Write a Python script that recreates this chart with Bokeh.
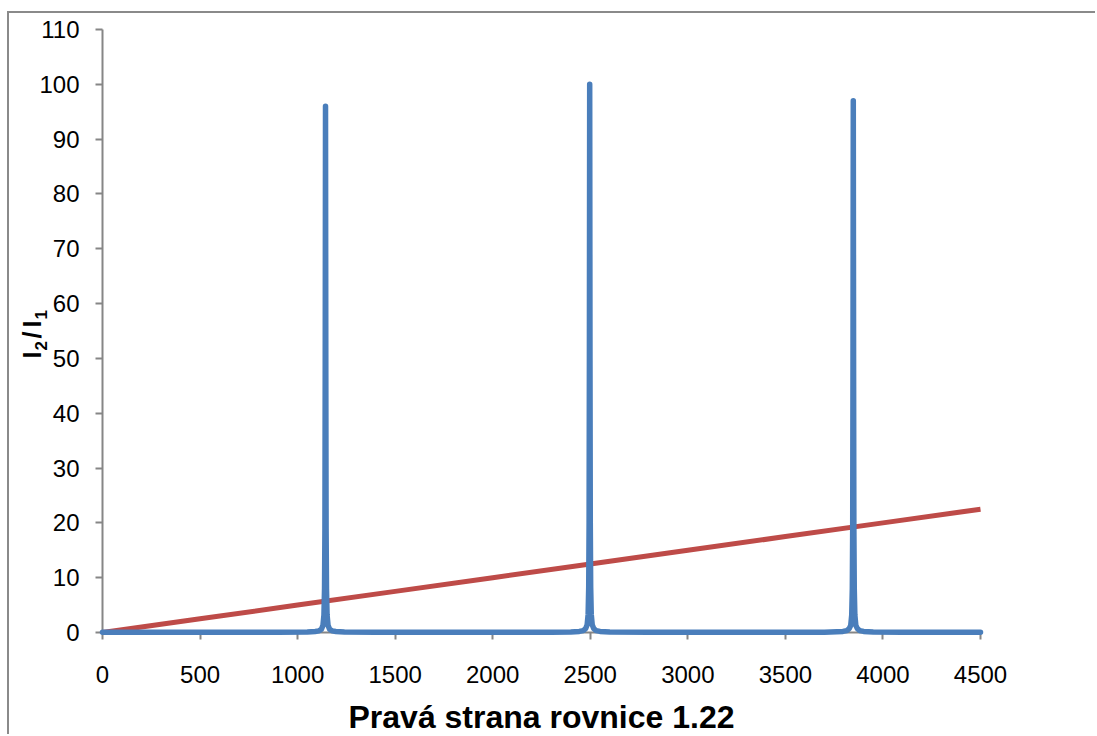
from bokeh.plotting import figure
from bokeh.models import Range1d, FixedTicker, Label
from bokeh.embed import file_html
from bokeh.resources import INLINE

# ---- data ----
blue_x = [0, 300, 600, 900, 1050, 1090, 1110, 1122, 1130, 1135, 1138, 1140, 1141.5, 1143,
          1144.5, 1146, 1148, 1151, 1156, 1164, 1176, 1196, 1240, 1400, 1700, 2000, 2300,
          2400, 2444, 2464, 2476, 2484, 2489, 2492, 2494, 2495.5, 2497, 2498.5, 2500, 2502,
          2505, 2510, 2518, 2530, 2550, 2600, 2800, 3100, 3400, 3700, 3795, 3815, 3827, 3835,
          3840, 3843, 3845, 3846.5, 3848, 3849.5, 3851, 3853, 3856, 3861, 3869, 3881, 3901,
          3950, 4100, 4300, 4500]
blue_y = [0.05, 0.05, 0.05, 0.06, 0.1, 0.2, 0.3, 0.6, 1.3, 3.2, 8, 19, 48, 96,
          48, 19, 8, 3.2, 1.3, 0.6, 0.3, 0.2, 0.1, 0.05, 0.05, 0.05, 0.05,
          0.08, 0.2, 0.35, 0.7, 1.4, 3.3, 8.3, 20, 50, 100, 50, 20, 8.3,
          3.3, 1.4, 0.7, 0.35, 0.2, 0.08, 0.05, 0.05, 0.05, 0.06, 0.2, 0.35, 0.7, 1.3,
          3.2, 8, 19, 48, 97, 48, 19, 8, 3.2, 1.3, 0.7, 0.35, 0.2,
          0.08, 0.05, 0.05, 0.05]
red_x = [0, 500, 1000, 1500, 2000, 2500, 3000, 3500, 4000, 4500]
red_y = [0, 2.5, 5, 7.5, 10, 12.5, 15, 17.5, 20, 22.5]

x_ticks = [0, 500, 1000, 1500, 2000, 2500, 3000, 3500, 4000, 4500]
y_ticks = [0, 10, 20, 30, 40, 50, 60, 70, 80, 90, 100, 110]
x_title = "Pravá strana rovnice 1.22"
# y title pieces: (text, is_subscript)
y_title_parts = [("I", False), ("2", True), ("/", False), ("I", False), ("1", True)]

AX = "#868686"
# ---- layout (pixels within the canvas) ----
CW, CH = 1088, 723
PX_L, PX_R = 93, 971      # canvas x of the 0 and 4500 ticks
PY_T, PY_B = 16, 619      # canvas y of the 110 and 0 ticks
x_lo, x_hi = x_ticks[0], x_ticks[-1]
y_lo, y_hi = y_ticks[0], y_ticks[-1]
xpp = (x_hi - x_lo) / (PX_R - PX_L)
ypp = (y_hi - y_lo) / (PY_B - PY_T)

def dx(px):   # canvas px -> data x
    return x_lo + (px - PX_L) * xpp

def dy(py):   # canvas py -> data y
    return y_lo + (PY_B - py) * ypp

p = figure(width=CW, height=CH, output_backend="svg", toolbar_location=None,
           x_range=Range1d(dx(0), dx(CW)), y_range=Range1d(dy(CH), dy(0)),
           min_border_left=0, min_border_right=0, min_border_top=0, min_border_bottom=0)
p.margin = (11, 0, 0, 7)
p.styles = {"border-left": "2px solid #8a8a8a", "border-top": "2px solid #8a8a8a"}
p.outline_line_color = None
p.xgrid.visible = False
p.ygrid.visible = False
p.background_fill_color = "white"
p.border_fill_color = "white"

for ax in (p.xaxis[0], p.yaxis[0]):
    ax.axis_line_color = AX
    ax.axis_line_width = 2
    ax.major_tick_line_color = AX
    ax.major_tick_line_width = 2
    ax.major_tick_out = 7
    ax.major_tick_in = 0
    ax.minor_tick_line_color = None
    ax.major_label_text_font = "Liberation Sans"
    ax.major_label_text_font_size = "24px"
    ax.major_label_text_color = "black"

p.xaxis.ticker = FixedTicker(ticks=x_ticks)
p.yaxis.ticker = FixedTicker(ticks=y_ticks)
p.xaxis.bounds = (x_lo, x_hi)
p.yaxis.bounds = (y_lo, y_hi)
p.xaxis.fixed_location = y_lo
p.yaxis.fixed_location = x_lo
p.xaxis.major_label_standoff = 26
p.yaxis.major_label_standoff = 16

p.line(red_x, red_y, line_color="#BE4B48", line_width=5, level="annotation")
p.line(blue_x, blue_y, line_color="#4A7EBB", line_width=5.5, line_join="round",
       line_cap="round", level="annotation")

# x title
p.add_layout(Label(x=(x_lo + x_hi) / 2, y=dy(703), text=x_title, text_font="Liberation Sans",
                   text_font_style="bold", text_font_size="32px", text_color="black",
                   text_align="center", text_baseline="alphabetic"))

# rotated y title built from pieces
starts = [345, 337, 325, 314, 306]   # canvas y where each piece begins (reading upward)
for (t, sub), sy in zip(y_title_parts, starts):
    p.add_layout(Label(x=dx(31 if sub else 22), y=dy(sy),
                       text=t, angle=1.5708, text_font="Liberation Sans", text_font_style="bold",
                       text_font_size=("17px" if sub else "25px"), text_color="black",
                       text_align="left", text_baseline="alphabetic"))

open("out.html", "w").write(file_html(p, INLINE))
